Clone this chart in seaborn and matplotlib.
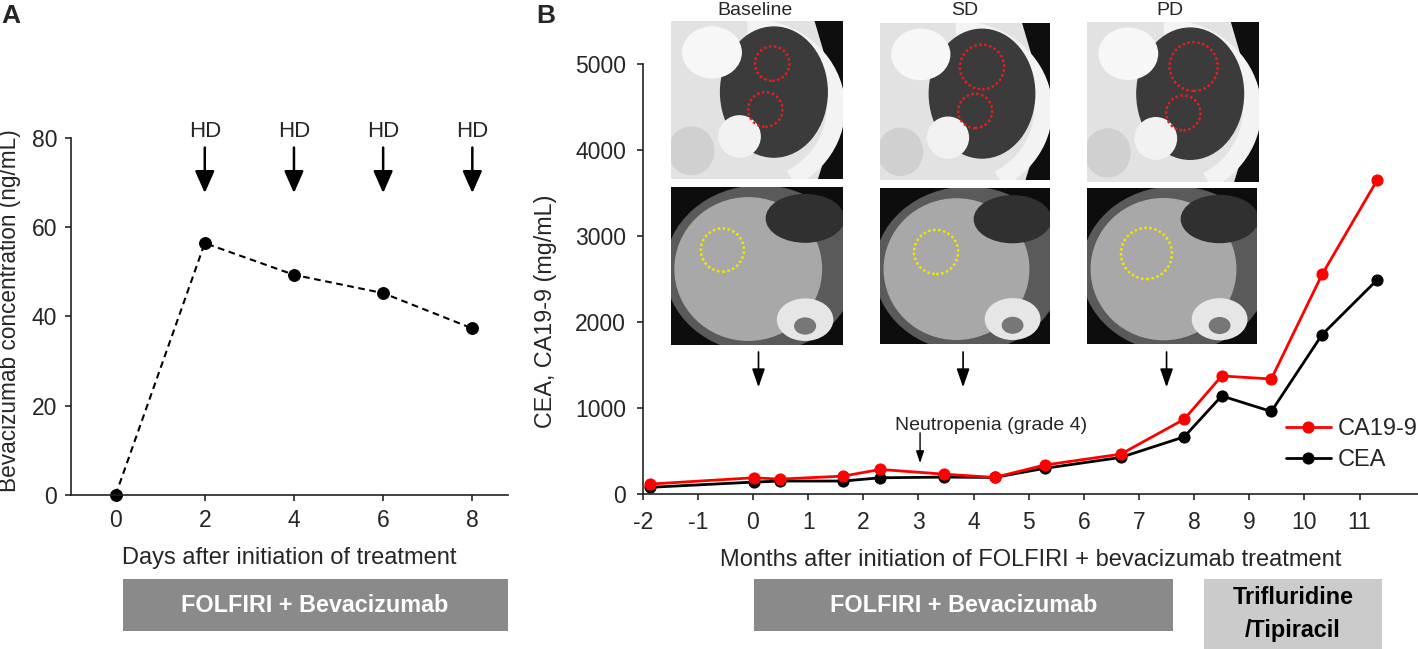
import matplotlib
matplotlib.use("Agg")
import matplotlib.pyplot as plt
from matplotlib.patches import Rectangle, Ellipse, Polygon, Wedge
import seaborn as sns

# ---------------- data ----------------
days = [0, 2, 4, 6, 8]
bev_conc = [0.0, 56.4, 49.3, 45.2, 37.3]
hd_days = [2, 4, 6, 8]

months = [-1.87, 0.01, 0.49, 1.63, 2.31, 3.47, 4.38, 5.29, 6.67, 7.82, 8.50, 9.40, 10.32, 11.32]
ca199 = [119, 192, 177, 211, 289, 234, 196, 340, 467, 873, 1376, 1341, 2556, 3654]
cea = [81, 142, 154, 154, 192, 200, 196, 302, 429, 668, 1144, 963, 1856, 2494]

ct_labels = ["Baseline", "SD", "PD"]
ct_months = [0.1, 3.81, 7.5]
neutropenia_month = 3.03

xticks_a = [0, 2, 4, 6, 8]
yticks_a = [0, 20, 40, 60, 80]
xticks_b = list(range(-2, 12))
yticks_b = [0, 1000, 2000, 3000, 4000, 5000]

# ---------------- style ----------------
sns.set_style("ticks")
plt.rcParams["font.family"] = ["Liberation Sans", "DejaVu Sans"]
plt.rcParams["axes.edgecolor"] = "#222222"
plt.rcParams["axes.linewidth"] = 1.2
plt.rcParams["axes.unicode_minus"] = False

W, H = 1418, 649
fig = plt.figure(figsize=(W / 100, H / 100), dpi=100)


def fx(p):
    return p / W


def fy(p):
    return 1 - p / H


def px_axes(x0, y0, x1, y1):
    return fig.add_axes([fx(x0), fy(y1), fx(x1) - fx(x0), fy(y0) - fy(y1)])


# ---------------- panel A ----------------
axA = px_axes(71, 137.7, 508, 495)
sns.lineplot(x=days, y=bev_conc, ax=axA, color="black", linestyle=(0, (3.2, 2.2)),
             lw=1.5, marker="o", markersize=8.5, markeredgecolor="black", clip_on=False)
axA.set_xlim(-1.0, 8.8)
axA.set_ylim(0, 80)
axA.set_xticks(xticks_a)
axA.set_yticks(yticks_a)
sns.despine(ax=axA)
axA.tick_params(direction="out", length=4, width=1.2, labelsize=16.5, pad=6)
axA.set_xlabel("Days after initiation of treatment", fontsize=17, labelpad=11)
axA.set_ylabel("Bevacizumab concentration (ng/mL)", fontsize=16.3)
axA.yaxis.set_label_coords(-0.114, 0.515)
for d in hd_days:
    axA.annotate("", xy=(d, 67.6), xytext=(d, 77.8),
                 arrowprops=dict(arrowstyle="-|>,head_length=0.75,head_width=0.33",
                                 mutation_scale=18, lw=1.8, color="black",
                                 shrinkA=0, shrinkB=0),
                 annotation_clip=False)
    axA.text(d, 81.4, "HD", ha="center", va="center", fontsize=16, clip_on=False)

# ---------------- panel B ----------------
axB = px_axes(642.7, 64.3, 1418, 494.3)
sns.lineplot(x=months, y=cea, ax=axB, color="black", lw=2, marker="o",
             markersize=8, markeredgecolor="black", label="CEA", clip_on=False)
sns.lineplot(x=months, y=ca199, ax=axB, color="#ff0000", lw=2, marker="o",
             markersize=8, markeredgecolor="#ff0000", label="CA19-9", clip_on=False)
axB.set_xlim(-2, 12.06)
axB.set_ylim(0, 5000)
axB.set_xticks(xticks_b)
axB.set_yticks(yticks_b)
sns.despine(ax=axB)
axB.tick_params(direction="out", length=4, width=1.2, labelsize=16.5)
axB.tick_params(axis="y", pad=8)
axB.tick_params(axis="x", pad=8)
axB.set_xlabel("Months after initiation of FOLFIRI + bevacizumab treatment",
               fontsize=17, labelpad=11)
axB.set_ylabel("CEA, CA19-9 (mg/mL)", fontsize=16.8)
axB.yaxis.set_label_coords(-0.1105, 0.425)
h, l = axB.get_legend_handles_labels()
order = [l.index("CA19-9"), l.index("CEA")]
axB.legend([h[i] for i in order], [l[i] for i in order], frameon=False, fontsize=17,
           loc="upper left", bbox_to_anchor=(fx(1286), fy(418)),
           bbox_transform=fig.transFigure, borderaxespad=0, borderpad=0,
           handlelength=1.9, handletextpad=0.3, labelspacing=0.38)

for m in ct_months:
    axB.annotate("", xy=(m, 1245), xytext=(m, 1655),
                 arrowprops=dict(arrowstyle="-|>,head_length=0.8,head_width=0.28",
                                 mutation_scale=14, lw=1.2, color="black",
                                 shrinkA=0, shrinkB=0))
axB.annotate("", xy=(neutropenia_month, 363), xytext=(neutropenia_month, 715),
             arrowprops=dict(arrowstyle="-|>,head_length=0.6,head_width=0.2",
                             mutation_scale=12, lw=1.0, color="black",
                             shrinkA=0, shrinkB=0))
axB.text(4.32, 804, "Neutropenia (grade 4)", ha="center", va="center", fontsize=14)


# ---------------- CT placeholders ----------------
def lung(box, circ):
    ax = px_axes(*box)
    ax.set_axis_off()
    ax.set_xlim(0, 1)
    ax.set_ylim(0, 1)
    ax.add_patch(Rectangle((0, 0), 1, 1, color="#e2e2e2"))
    ax.add_patch(Polygon([[0.84, 1], [1, 1], [1, 0], [0.86, 0], [0.99, 0.45]], color="#0e0e0e"))
    ax.add_patch(Wedge((0.45, 0.45), 0.56, -60, 90, width=0.1, color="#f3f3f3"))
    ax.add_patch(Ellipse((0.6, 0.55), 0.62, 0.82, color="#3b3b3b"))
    ax.add_patch(Ellipse((0.24, 0.8), 0.34, 0.32, color="#f7f7f7"))
    ax.add_patch(Ellipse((0.4, 0.27), 0.24, 0.26, color="#f2f2f2"))
    ax.add_patch(Ellipse((0.12, 0.18), 0.26, 0.3, color="#d0d0d0"))
    for (cx, cy, r) in circ:
        ax.add_patch(Ellipse((cx, cy), 2 * r, 2 * r * 1.09, fill=False,
                             edgecolor="#e0201e", lw=1.8, linestyle=(0, (1, 1))))


def liver(box, circ):
    ax = px_axes(*box)
    ax.set_axis_off()
    ax.set_xlim(0, 1)
    ax.set_ylim(0, 1)
    ax.add_patch(Rectangle((0, 0), 1, 1, color="#0d0d0d"))
    ax.add_patch(Ellipse((0.52, 0.48), 1.1, 1.05, color="#5a5a5a"))
    ax.add_patch(Ellipse((0.45, 0.48), 0.85, 0.9, color="#a8a8a8"))
    ax.add_patch(Ellipse((0.78, 0.8), 0.45, 0.3, color="#303030"))
    ax.add_patch(Ellipse((0.78, 0.16), 0.32, 0.26, color="#e6e6e6"))
    ax.add_patch(Ellipse((0.78, 0.12), 0.12, 0.1, color="#777777"))
    cx, cy, r = circ
    ax.add_patch(Ellipse((cx, cy), 2 * r, 2 * r * 1.09, fill=False,
                         edgecolor="#f2e600", lw=1.8, linestyle=(0, (1, 1))))


lung((670.7, 20.7, 842.7, 179.3), [(0.59, 0.73, 0.1), (0.55, 0.44, 0.1)])
liver((670.7, 186.7, 843, 345), (0.30, 0.60, 0.125))
lung((880, 23, 1050, 180), [(0.6, 0.72, 0.13), (0.56, 0.44, 0.1)])
liver((880, 188, 1050, 344), (0.33, 0.59, 0.13))
lung((1087, 21.7, 1259, 181.7), [(0.62, 0.72, 0.14), (0.56, 0.43, 0.1)])
liver((1087, 187.7, 1257, 344.3), (0.35, 0.58, 0.15))

for lab, xc in zip(ct_labels, [755, 965, 1170]):
    fig.text(fx(xc), fy(15), lab, ha="center", va="baseline", fontsize=14)

# ---------------- treatment boxes ----------------
def box(x0, y0, x1, y1, color):
    fig.add_artist(Rectangle((fx(x0), fy(y1)), fx(x1) - fx(x0), fy(y0) - fy(y1),
                             transform=fig.transFigure, color=color, lw=0))


box(122.5, 579, 508, 631, "#8a8a8a")
fig.text(fx(315), fy(606), "FOLFIRI + Bevacizumab", ha="center", va="center",
         fontsize=16.8, fontweight="bold", color="white")
box(754.3, 579, 1173, 631, "#8a8a8a")
fig.text(fx(963.6), fy(606), "FOLFIRI + Bevacizumab", ha="center", va="center",
         fontsize=16.8, fontweight="bold", color="white")
box(1204, 579, 1382, 649, "#cbcbcb")
fig.text(fx(1293), fy(598), "Trifluridine", ha="center", va="center",
         fontsize=16.8, fontweight="bold", color="black")
fig.text(fx(1293), fy(630), "/Tipiracil", ha="center", va="center",
         fontsize=16.8, fontweight="bold", color="black")

# panel letters
fig.text(fx(1), fy(16), "A", ha="left", va="center", fontsize=19, fontweight="bold")
fig.text(fx(536), fy(16), "B", ha="left", va="center", fontsize=19, fontweight="bold")

fig.savefig("out.png", dpi=100)
